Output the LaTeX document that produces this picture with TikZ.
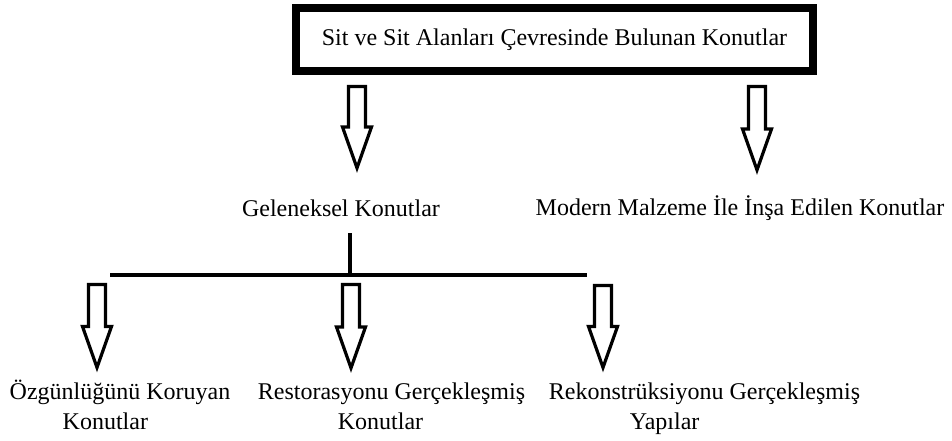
\documentclass[tikz,border=0pt]{standalone}
\usepackage{fontspec}
\setmainfont{Liberation Serif}
\usetikzlibrary{calc}

% hollow block arrow from a top point down to a tip point
\newcommand{\blockarrow}[2]{%
  \draw[barrow] ($(#1)+(-8.5,0)$) -- ($(#1)+(8.5,0)$) -- ($(#2)+(8.5,-41)$)
    -- ($(#2)+(14.5,-41)$) -- (#2) -- ($(#2)+(-14.5,-41)$)
    -- ($(#2)+(-8.5,-41)$) -- cycle;}

\begin{document}
\begin{tikzpicture}[x=1pt, y=-1pt,
  font=\fontsize{24}{30}\selectfont,
  title/.style={draw=black, line width=8pt, minimum width=517pt,
                minimum height=63pt, inner sep=0pt},
  lbl/.style={align=center, inner sep=0pt},
  two/.style={align=left, inner sep=0pt},
  barrow/.style={draw=black, line width=3.2pt, line join=miter, fill=white},
  tline/.style={black, line width=4.5pt},
]
\useasboundingbox (0,0) rectangle (952,441);

% --- top box and the two kinds of houses --------------------------------
\node[title] (sit) at (554.5,39.5)
  {\raisebox{2pt}{\strut Sit ve Sit Alanları Çevresinde Bulunan Konutlar}};
\node[lbl] (gel) at (341,210) {\strut Geleneksel Konutlar};
\node[lbl] (mod) at (740,209) {\strut Modern Malzeme İle İnşa Edilen Konutlar};

\coordinate (a1top) at (357,86.5);
\coordinate (a1tip) at (357,168);
\coordinate (a2top) at (757,86.5);
\coordinate (a2tip) at (757,170);
\blockarrow{a1top}{a1tip}
\blockarrow{a2top}{a2tip}

% --- split of the traditional houses ----------------------------------
\coordinate (stem) at (350,233);
\coordinate (split) at (350,275);
\coordinate (hl) at (110,275);
\coordinate (hr) at (587,275);
\draw[tline] (stem) -- (split);
\draw[tline] (hl) -- (hr);

\node[two] (ozg) at (120,408)
  {\strut Özgünlüğünü Koruyan\\\hspace*{53pt}\strut Konutlar};
\node[two] (res) at (391.5,408)
  {\strut Restorasyonu Gerçekleşmiş\\\hspace*{80pt}\strut Konutlar};
\node[two] (rek) at (704.5,408)
  {\strut Rekonstrüksiyonu Gerçekleşmiş\\\hspace*{81pt}\strut Yapılar};

\coordinate (b1top) at (97,284.5);
\coordinate (b1tip) at (97,367.5);
\coordinate (b2top) at (351,284.5);
\coordinate (b2tip) at (351,368);
\coordinate (b3top) at (603,285.5);
\coordinate (b3tip) at (603,367.5);
\blockarrow{b1top}{b1tip}
\blockarrow{b2top}{b2tip}
\blockarrow{b3top}{b3tip}
\end{tikzpicture}
\end{document}
